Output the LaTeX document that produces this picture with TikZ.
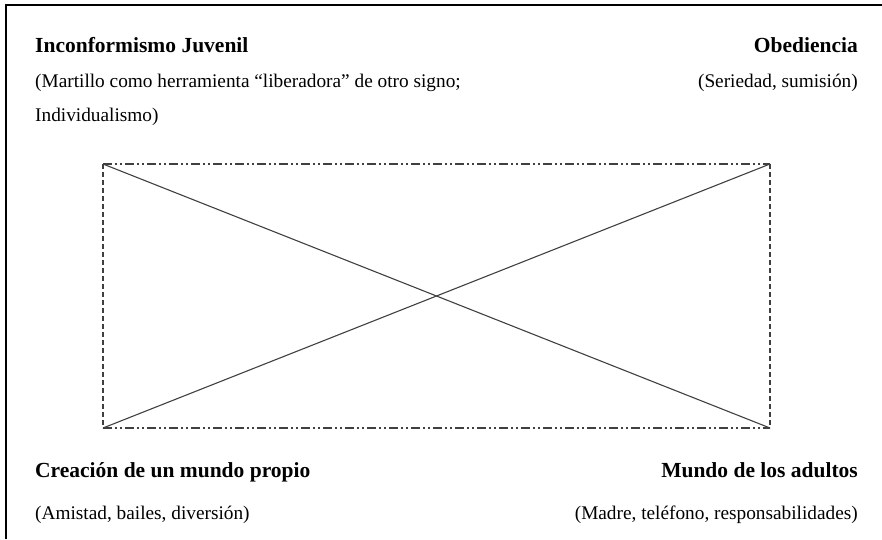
\documentclass[tikz,border=0pt]{standalone}
\usepackage{fontspec}
\setmainfont{Liberation Serif}
\begin{document}
\begin{tikzpicture}[x=1pt,y=-1pt,
  ttl/.style={font=\fontsize{21.5}{25}\selectfont\bfseries, inner sep=0pt},
  sub/.style={font=\fontsize{19.3}{23}\selectfont, inner sep=0pt},
  dashdot/.style={line width=1.2pt, dash pattern=on 9pt off 3pt on 2pt off 3pt on 2pt off 3pt, black!75},
  dashside/.style={line width=1.2pt, dash pattern=on 5pt off 3pt, black!75},
  diag/.style={line width=1.1pt, black!75}]
\useasboundingbox (0,0) rectangle (882,539);
% frame
\draw[line width=2pt] (6,539) -- (6,5) -- (882,5);
% text
\node[ttl, anchor=base west] (t1) at (35,52) {Inconformismo Juvenil};
\node[sub, anchor=base west] (s1a) at (35,87) {(Martillo como herramienta “liberadora” de otro signo;};
\node[sub, anchor=base west] (s1b) at (35,121) {Individualismo)};
\node[ttl, anchor=base east] (t2) at (858,52) {Obediencia};
\node[sub, anchor=base east] (s2) at (858,87) {(Seriedad, sumisión)};
\node[ttl, anchor=base west] (t3) at (35,477) {Creación de un mundo propio};
\node[sub, anchor=base west] (s3) at (35,519) {(Amistad, bailes, diversión)};
\node[ttl, anchor=base east] (t4) at (858,477) {Mundo de los adultos};
\node[sub, anchor=base east] (s4) at (858,519) {(Madre, teléfono, responsabilidades)};
% box
\coordinate (tl) at (103,164);
\coordinate (tr) at (770,164);
\coordinate (bl) at (103,428);
\coordinate (br) at (770,428);
\draw[dashdot] (tl) -- (tr);
\draw[dashdot] (bl) -- (br);
\draw[dashside] (tl) -- (bl);
\draw[dashside] (tr) -- (br);
\draw[diag] (tl) -- (br);
\draw[diag] (bl) -- (tr);
\end{tikzpicture}
\end{document}
